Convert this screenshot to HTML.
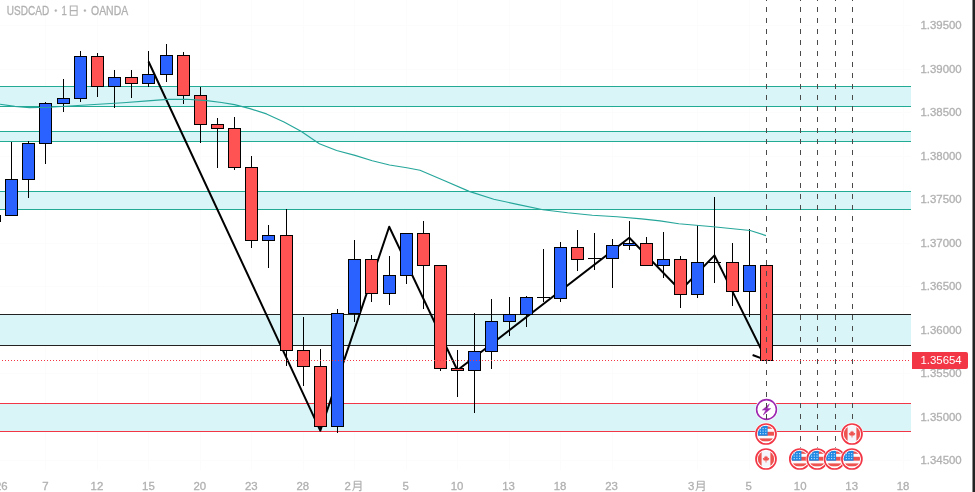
<!DOCTYPE html>
<html><head><meta charset="utf-8"><style>
html,body{margin:0;padding:0;background:#fff;}
body{width:975px;height:492px;overflow:hidden;position:relative;font-family:"Liberation Sans",sans-serif;}
</style></head><body>
<svg width="975" height="492" viewBox="0 0 975 492" style="position:absolute;left:0;top:0">
<rect width="975" height="492" fill="#fff"/>
<g shape-rendering="crispEdges" fill="#fcfcfc">
<rect x="-5" y="0" width="1" height="470"/>
<rect x="45" y="0" width="1" height="470"/>
<rect x="97" y="0" width="1" height="470"/>
<rect x="148" y="0" width="1" height="470"/>
<rect x="200" y="0" width="1" height="470"/>
<rect x="251" y="0" width="1" height="470"/>
<rect x="303" y="0" width="1" height="470"/>
<rect x="354" y="0" width="1" height="470"/>
<rect x="406" y="0" width="1" height="470"/>
<rect x="457" y="0" width="1" height="470"/>
<rect x="509" y="0" width="1" height="470"/>
<rect x="560" y="0" width="1" height="470"/>
<rect x="612" y="0" width="1" height="470"/>
<rect x="697" y="0" width="1" height="470"/>
<rect x="749" y="0" width="1" height="470"/>
<rect x="800" y="0" width="1" height="470"/>
<rect x="852" y="0" width="1" height="470"/>
<rect x="903" y="0" width="1" height="470"/>
<rect x="0" y="25" width="911" height="1"/>
<rect x="0" y="69" width="911" height="1"/>
<rect x="0" y="112" width="911" height="1"/>
<rect x="0" y="156" width="911" height="1"/>
<rect x="0" y="199" width="911" height="1"/>
<rect x="0" y="243" width="911" height="1"/>
<rect x="0" y="286" width="911" height="1"/>
<rect x="0" y="330" width="911" height="1"/>
<rect x="0" y="373" width="911" height="1"/>
<rect x="0" y="417" width="911" height="1"/>
<rect x="0" y="460" width="911" height="1"/>
</g>
<g shape-rendering="crispEdges">
<rect x="0" y="86" width="911" height="21" fill="#d9f5f8"/>
<rect x="0" y="86" width="911" height="1" fill="#22ab94"/>
<rect x="0" y="106" width="911" height="1" fill="#22ab94"/>
<rect x="0" y="131" width="911" height="11" fill="#d9f5f8"/>
<rect x="0" y="131" width="911" height="1" fill="#22ab94"/>
<rect x="0" y="141" width="911" height="1" fill="#22ab94"/>
<rect x="0" y="191" width="911" height="19" fill="#d9f5f8"/>
<rect x="0" y="191" width="911" height="1" fill="#22ab94"/>
<rect x="0" y="209" width="911" height="1" fill="#22ab94"/>
<rect x="0" y="314" width="911" height="32" fill="#d9f5f8"/>
<rect x="0" y="314" width="911" height="1" fill="#222"/>
<rect x="0" y="345" width="911" height="1" fill="#222"/>
<rect x="0" y="403" width="911" height="29" fill="#d9f5f8"/>
<rect x="0" y="403" width="911" height="1" fill="#f23645"/>
<rect x="0" y="431" width="911" height="1" fill="#f23645"/>
</g>
<polyline fill="none" stroke="#000" stroke-width="2" stroke-linejoin="round" points="148.5,61.5 320.3,430.6 389.2,226.8 457.4,370.2 629.3,237.8 680.5,290.5 714.5,255.4 766.5,360"/>
<path d="M752.6 355L766 360" stroke="#000" stroke-width="2" fill="none"/>
<g shape-rendering="crispEdges">
<rect x="0" y="215" width="1" height="7" fill="#000"/>
<rect x="11" y="142" width="1" height="74" fill="#000"/>
<rect x="5" y="179" width="13" height="37" fill="#000"/>
<rect x="6" y="180" width="11" height="35" fill="#2962ff"/>
<rect x="28" y="141" width="1" height="57" fill="#000"/>
<rect x="22" y="143" width="13" height="37" fill="#000"/>
<rect x="23" y="144" width="11" height="35" fill="#2962ff"/>
<rect x="45" y="102" width="1" height="62" fill="#000"/>
<rect x="39" y="103" width="13" height="41" fill="#000"/>
<rect x="40" y="104" width="11" height="39" fill="#2962ff"/>
<rect x="63" y="79" width="1" height="33" fill="#000"/>
<rect x="57" y="98" width="13" height="6" fill="#000"/>
<rect x="58" y="99" width="11" height="4" fill="#2962ff"/>
<rect x="80" y="51" width="1" height="51" fill="#000"/>
<rect x="74" y="56" width="13" height="43" fill="#000"/>
<rect x="75" y="57" width="11" height="41" fill="#2962ff"/>
<rect x="97" y="53" width="1" height="44" fill="#000"/>
<rect x="91" y="56" width="13" height="31" fill="#000"/>
<rect x="92" y="57" width="11" height="29" fill="#ff5252"/>
<rect x="114" y="70" width="1" height="38" fill="#000"/>
<rect x="108" y="77" width="13" height="10" fill="#000"/>
<rect x="109" y="78" width="11" height="8" fill="#2962ff"/>
<rect x="131" y="70" width="1" height="28" fill="#000"/>
<rect x="125" y="77" width="13" height="7" fill="#000"/>
<rect x="126" y="78" width="11" height="5" fill="#ff5252"/>
<rect x="148" y="51" width="1" height="36" fill="#000"/>
<rect x="142" y="74" width="13" height="10" fill="#000"/>
<rect x="143" y="75" width="11" height="8" fill="#2962ff"/>
<rect x="166" y="44" width="1" height="38" fill="#000"/>
<rect x="160" y="55" width="13" height="20" fill="#000"/>
<rect x="161" y="56" width="11" height="18" fill="#2962ff"/>
<rect x="183" y="52" width="1" height="52" fill="#000"/>
<rect x="177" y="55" width="13" height="41" fill="#000"/>
<rect x="178" y="56" width="11" height="39" fill="#ff5252"/>
<rect x="200" y="87" width="1" height="56" fill="#000"/>
<rect x="194" y="95" width="13" height="30" fill="#000"/>
<rect x="195" y="96" width="11" height="28" fill="#ff5252"/>
<rect x="217" y="118" width="1" height="50" fill="#000"/>
<rect x="211" y="124" width="13" height="5" fill="#000"/>
<rect x="212" y="125" width="11" height="3" fill="#ff5252"/>
<rect x="234" y="117" width="1" height="53" fill="#000"/>
<rect x="228" y="128" width="13" height="40" fill="#000"/>
<rect x="229" y="129" width="11" height="38" fill="#ff5252"/>
<rect x="251" y="156" width="1" height="92" fill="#000"/>
<rect x="245" y="167" width="13" height="74" fill="#000"/>
<rect x="246" y="168" width="11" height="72" fill="#ff5252"/>
<rect x="268" y="225" width="1" height="43" fill="#000"/>
<rect x="262" y="235" width="13" height="6" fill="#000"/>
<rect x="263" y="236" width="11" height="4" fill="#2962ff"/>
<rect x="286" y="209" width="1" height="157" fill="#000"/>
<rect x="280" y="235" width="13" height="116" fill="#000"/>
<rect x="281" y="236" width="11" height="114" fill="#ff5252"/>
<rect x="303" y="317" width="1" height="69" fill="#000"/>
<rect x="297" y="350" width="13" height="17" fill="#000"/>
<rect x="298" y="351" width="11" height="15" fill="#ff5252"/>
<rect x="320" y="349" width="1" height="82" fill="#000"/>
<rect x="314" y="366" width="13" height="61" fill="#000"/>
<rect x="315" y="367" width="11" height="59" fill="#ff5252"/>
<rect x="337" y="309" width="1" height="124" fill="#000"/>
<rect x="331" y="313" width="13" height="114" fill="#000"/>
<rect x="332" y="314" width="11" height="112" fill="#2962ff"/>
<rect x="354" y="240" width="1" height="82" fill="#000"/>
<rect x="348" y="259" width="13" height="55" fill="#000"/>
<rect x="349" y="260" width="11" height="53" fill="#2962ff"/>
<rect x="371" y="255" width="1" height="47" fill="#000"/>
<rect x="365" y="259" width="13" height="35" fill="#000"/>
<rect x="366" y="260" width="11" height="33" fill="#ff5252"/>
<rect x="389" y="256" width="1" height="49" fill="#000"/>
<rect x="383" y="275" width="13" height="19" fill="#000"/>
<rect x="384" y="276" width="11" height="17" fill="#2962ff"/>
<rect x="406" y="233" width="1" height="51" fill="#000"/>
<rect x="400" y="233" width="13" height="43" fill="#000"/>
<rect x="401" y="234" width="11" height="41" fill="#2962ff"/>
<rect x="423" y="221" width="1" height="88" fill="#000"/>
<rect x="417" y="233" width="13" height="33" fill="#000"/>
<rect x="418" y="234" width="11" height="31" fill="#ff5252"/>
<rect x="440" y="265" width="1" height="106" fill="#000"/>
<rect x="434" y="265" width="13" height="104" fill="#000"/>
<rect x="435" y="266" width="11" height="102" fill="#ff5252"/>
<rect x="457" y="350" width="1" height="47" fill="#000"/>
<rect x="451" y="368" width="13" height="3" fill="#000"/>
<rect x="452" y="369" width="11" height="1" fill="#ff5252"/>
<rect x="474" y="313" width="1" height="100" fill="#000"/>
<rect x="468" y="351" width="13" height="20" fill="#000"/>
<rect x="469" y="352" width="11" height="18" fill="#2962ff"/>
<rect x="491" y="299" width="1" height="70" fill="#000"/>
<rect x="485" y="321" width="13" height="31" fill="#000"/>
<rect x="486" y="322" width="11" height="29" fill="#2962ff"/>
<rect x="509" y="297" width="1" height="39" fill="#000"/>
<rect x="503" y="314" width="13" height="8" fill="#000"/>
<rect x="504" y="315" width="11" height="6" fill="#2962ff"/>
<rect x="526" y="296" width="1" height="31" fill="#000"/>
<rect x="520" y="297" width="13" height="18" fill="#000"/>
<rect x="521" y="298" width="11" height="16" fill="#2962ff"/>
<rect x="543" y="249" width="1" height="53" fill="#000"/>
<rect x="537" y="297" width="13" height="1" fill="#000"/>
<rect x="560" y="242" width="1" height="60" fill="#000"/>
<rect x="554" y="247" width="13" height="52" fill="#000"/>
<rect x="555" y="248" width="11" height="50" fill="#2962ff"/>
<rect x="577" y="230" width="1" height="41" fill="#000"/>
<rect x="571" y="247" width="13" height="13" fill="#000"/>
<rect x="572" y="248" width="11" height="11" fill="#ff5252"/>
<rect x="594" y="233" width="1" height="37" fill="#000"/>
<rect x="588" y="258" width="13" height="1" fill="#000"/>
<rect x="612" y="239" width="1" height="49" fill="#000"/>
<rect x="606" y="245" width="13" height="14" fill="#000"/>
<rect x="607" y="246" width="11" height="12" fill="#2962ff"/>
<rect x="629" y="221" width="1" height="29" fill="#000"/>
<rect x="623" y="243" width="13" height="3" fill="#000"/>
<rect x="624" y="244" width="11" height="1" fill="#2962ff"/>
<rect x="646" y="237" width="1" height="29" fill="#000"/>
<rect x="640" y="243" width="13" height="23" fill="#000"/>
<rect x="641" y="244" width="11" height="21" fill="#ff5252"/>
<rect x="663" y="232" width="1" height="46" fill="#000"/>
<rect x="657" y="259" width="13" height="7" fill="#000"/>
<rect x="658" y="260" width="11" height="5" fill="#2962ff"/>
<rect x="680" y="256" width="1" height="52" fill="#000"/>
<rect x="674" y="259" width="13" height="36" fill="#000"/>
<rect x="675" y="260" width="11" height="34" fill="#ff5252"/>
<rect x="697" y="225" width="1" height="73" fill="#000"/>
<rect x="691" y="262" width="13" height="33" fill="#000"/>
<rect x="692" y="263" width="11" height="31" fill="#2962ff"/>
<rect x="714" y="197" width="1" height="86" fill="#000"/>
<rect x="708" y="262" width="13" height="1" fill="#000"/>
<rect x="732" y="243" width="1" height="63" fill="#000"/>
<rect x="726" y="262" width="13" height="30" fill="#000"/>
<rect x="727" y="263" width="11" height="28" fill="#ff5252"/>
<rect x="749" y="229" width="1" height="88" fill="#000"/>
<rect x="743" y="265" width="13" height="27" fill="#000"/>
<rect x="744" y="266" width="11" height="25" fill="#2962ff"/>
<rect x="766" y="265" width="1" height="96" fill="#000"/>
<rect x="760" y="265" width="13" height="96" fill="#000"/>
<rect x="761" y="266" width="11" height="94" fill="#ff5252"/>
</g>
<polyline fill="none" stroke="#26a69a" stroke-width="1.15" stroke-linejoin="round" points="0,104.2 14.8,106.4 29.5,107.6 49.2,107.2 62,106.5 73.8,105.7 98.5,104.2 123,102.7 147.7,100.9 167.4,99.4 187,99.2 206.8,100.6 221.5,102.5 234.5,104.6 250,108.6 266.5,113.9 284,122 301,131.3 319.4,143.8 336.6,150.5 355,155.4 372.3,160.8 389.5,165 406.8,167.7 420,170.2 444.6,180.8 469.2,191.4 493.8,199.2 518.5,204.6 543,209.8 567.7,212.8 592.3,215.2 617,216.7 641.5,218.9 660,220.9 678.8,223.8 713.2,226.8 750.2,230.5 766.0,235.6"/>
<path d="M766.5 0V399" stroke="#4a4a4a" stroke-width="1" stroke-dasharray="5 6" stroke-dashoffset="4" shape-rendering="crispEdges" fill="none"/>
<path d="M800.5 0V448" stroke="#4a4a4a" stroke-width="1" stroke-dasharray="5 6" stroke-dashoffset="4" shape-rendering="crispEdges" fill="none"/>
<path d="M817.5 0V448" stroke="#4a4a4a" stroke-width="1" stroke-dasharray="5 6" stroke-dashoffset="4" shape-rendering="crispEdges" fill="none"/>
<path d="M835.5 0V448" stroke="#4a4a4a" stroke-width="1" stroke-dasharray="5 6" stroke-dashoffset="4" shape-rendering="crispEdges" fill="none"/>
<path d="M852.5 0V423" stroke="#4a4a4a" stroke-width="1" stroke-dasharray="5 6" stroke-dashoffset="4" shape-rendering="crispEdges" fill="none"/>
<path d="M2 360.5H911" stroke="#f23645" stroke-width="1" stroke-dasharray="1 2" shape-rendering="crispEdges" fill="none"/>
</svg>
<svg width="975" height="492" viewBox="0 0 975 492" style="position:absolute;left:0;top:0;opacity:0.999" font-family="Liberation Sans, sans-serif">
<defs><filter id="gs" x="0" y="0" width="100%" height="100%" filterUnits="userSpaceOnUse" color-interpolation-filters="sRGB"><feColorMatrix type="saturate" values="0"/></filter></defs>
<g transform="translate(766.5,409.5)"><circle r="11.3" fill="#fff"/><circle r="9.9" fill="#fff" stroke="#9c27b0" stroke-width="1.6"/><path d="M2.9 -5.6L-4.2 0.6L-0.6 0.6L-3.2 5.4L4.2 -0.9L0.7 -0.9Z" fill="#9c27b0" stroke="#9c27b0" stroke-width="0.5" stroke-linejoin="round"/></g><g shape-rendering="crispEdges" fill="#444"><rect x="766" y="403" width="1" height="5"/><rect x="766" y="414" width="1" height="5"/></g>
<g transform="translate(766,434)"><circle r="11.4" fill="#fff"/><circle r="10" fill="#fff" stroke="#f23645" stroke-width="1.7"/><clipPath id="c1"><circle r="8.2"/></clipPath><g clip-path="url(#c1)"><rect x="-9" y="-9" width="18" height="18" fill="#fbfbfd"/><rect x="-9" y="-7.6" width="18" height="2.4" fill="#ef5350"/><rect x="-9" y="-2.2" width="18" height="3.9" fill="#ef5350"/><rect x="-9" y="4.4" width="18" height="2.9" fill="#ef5350"/><rect x="-9" y="-9" width="10.6" height="10.7" fill="#1e88e5"/><rect x="-6.1499999999999995" y="-5.95" width="1.1" height="1.1" fill="#d6e8fb"/><rect x="-6.1499999999999995" y="-3.45" width="1.1" height="1.1" fill="#d6e8fb"/><rect x="-6.1499999999999995" y="-0.9500000000000001" width="1.1" height="1.1" fill="#d6e8fb"/><rect x="-3.45" y="-5.95" width="1.1" height="1.1" fill="#d6e8fb"/><rect x="-3.45" y="-3.45" width="1.1" height="1.1" fill="#d6e8fb"/><rect x="-3.45" y="-0.9500000000000001" width="1.1" height="1.1" fill="#d6e8fb"/><rect x="-0.75" y="-5.95" width="1.1" height="1.1" fill="#d6e8fb"/><rect x="-0.75" y="-3.45" width="1.1" height="1.1" fill="#d6e8fb"/><rect x="-0.75" y="-0.9500000000000001" width="1.1" height="1.1" fill="#d6e8fb"/></g></g>
<g transform="translate(766,459)"><circle r="11.4" fill="#fff"/><circle r="10" fill="#fff" stroke="#f23645" stroke-width="1.7"/><clipPath id="c2"><circle r="8.2"/></clipPath><g clip-path="url(#c2)"><rect x="-9" y="-9" width="18" height="18" fill="#f5f6fb"/><rect x="-9" y="-9" width="4.6" height="18" fill="#ef5350"/><rect x="4.4" y="-9" width="4.6" height="18" fill="#ef5350"/><path d="M0 -3.6L0.9 -2.1L1.9 -2.6L1.6 -0.6L2.7 -1.2L3.3 0L2.2 0.9L2.5 1.6L0.4 1.4L0.4 3.4L-0.4 3.4L-0.4 1.4L-2.5 1.6L-2.2 0.9L-3.3 0L-2.7 -1.2L-1.6 -0.6L-1.9 -2.6L-0.9 -2.1Z" fill="#ef5350"/></g></g>
<g transform="translate(799.8,459)"><circle r="11.4" fill="#fff"/><circle r="10" fill="#fff" stroke="#f23645" stroke-width="1.7"/><clipPath id="c3"><circle r="8.2"/></clipPath><g clip-path="url(#c3)"><rect x="-9" y="-9" width="18" height="18" fill="#fbfbfd"/><rect x="-9" y="-7.6" width="18" height="2.4" fill="#ef5350"/><rect x="-9" y="-2.2" width="18" height="3.9" fill="#ef5350"/><rect x="-9" y="4.4" width="18" height="2.9" fill="#ef5350"/><rect x="-9" y="-9" width="10.6" height="10.7" fill="#1e88e5"/><rect x="-6.1499999999999995" y="-5.95" width="1.1" height="1.1" fill="#d6e8fb"/><rect x="-6.1499999999999995" y="-3.45" width="1.1" height="1.1" fill="#d6e8fb"/><rect x="-6.1499999999999995" y="-0.9500000000000001" width="1.1" height="1.1" fill="#d6e8fb"/><rect x="-3.45" y="-5.95" width="1.1" height="1.1" fill="#d6e8fb"/><rect x="-3.45" y="-3.45" width="1.1" height="1.1" fill="#d6e8fb"/><rect x="-3.45" y="-0.9500000000000001" width="1.1" height="1.1" fill="#d6e8fb"/><rect x="-0.75" y="-5.95" width="1.1" height="1.1" fill="#d6e8fb"/><rect x="-0.75" y="-3.45" width="1.1" height="1.1" fill="#d6e8fb"/><rect x="-0.75" y="-0.9500000000000001" width="1.1" height="1.1" fill="#d6e8fb"/></g></g>
<g transform="translate(817.2,459)"><circle r="11.4" fill="#fff"/><circle r="10" fill="#fff" stroke="#f23645" stroke-width="1.7"/><clipPath id="c4"><circle r="8.2"/></clipPath><g clip-path="url(#c4)"><rect x="-9" y="-9" width="18" height="18" fill="#fbfbfd"/><rect x="-9" y="-7.6" width="18" height="2.4" fill="#ef5350"/><rect x="-9" y="-2.2" width="18" height="3.9" fill="#ef5350"/><rect x="-9" y="4.4" width="18" height="2.9" fill="#ef5350"/><rect x="-9" y="-9" width="10.6" height="10.7" fill="#1e88e5"/><rect x="-6.1499999999999995" y="-5.95" width="1.1" height="1.1" fill="#d6e8fb"/><rect x="-6.1499999999999995" y="-3.45" width="1.1" height="1.1" fill="#d6e8fb"/><rect x="-6.1499999999999995" y="-0.9500000000000001" width="1.1" height="1.1" fill="#d6e8fb"/><rect x="-3.45" y="-5.95" width="1.1" height="1.1" fill="#d6e8fb"/><rect x="-3.45" y="-3.45" width="1.1" height="1.1" fill="#d6e8fb"/><rect x="-3.45" y="-0.9500000000000001" width="1.1" height="1.1" fill="#d6e8fb"/><rect x="-0.75" y="-5.95" width="1.1" height="1.1" fill="#d6e8fb"/><rect x="-0.75" y="-3.45" width="1.1" height="1.1" fill="#d6e8fb"/><rect x="-0.75" y="-0.9500000000000001" width="1.1" height="1.1" fill="#d6e8fb"/></g></g>
<g transform="translate(834.5,459)"><circle r="11.4" fill="#fff"/><circle r="10" fill="#fff" stroke="#f23645" stroke-width="1.7"/><clipPath id="c5"><circle r="8.2"/></clipPath><g clip-path="url(#c5)"><rect x="-9" y="-9" width="18" height="18" fill="#fbfbfd"/><rect x="-9" y="-7.6" width="18" height="2.4" fill="#ef5350"/><rect x="-9" y="-2.2" width="18" height="3.9" fill="#ef5350"/><rect x="-9" y="4.4" width="18" height="2.9" fill="#ef5350"/><rect x="-9" y="-9" width="10.6" height="10.7" fill="#1e88e5"/><rect x="-6.1499999999999995" y="-5.95" width="1.1" height="1.1" fill="#d6e8fb"/><rect x="-6.1499999999999995" y="-3.45" width="1.1" height="1.1" fill="#d6e8fb"/><rect x="-6.1499999999999995" y="-0.9500000000000001" width="1.1" height="1.1" fill="#d6e8fb"/><rect x="-3.45" y="-5.95" width="1.1" height="1.1" fill="#d6e8fb"/><rect x="-3.45" y="-3.45" width="1.1" height="1.1" fill="#d6e8fb"/><rect x="-3.45" y="-0.9500000000000001" width="1.1" height="1.1" fill="#d6e8fb"/><rect x="-0.75" y="-5.95" width="1.1" height="1.1" fill="#d6e8fb"/><rect x="-0.75" y="-3.45" width="1.1" height="1.1" fill="#d6e8fb"/><rect x="-0.75" y="-0.9500000000000001" width="1.1" height="1.1" fill="#d6e8fb"/></g></g>
<g transform="translate(851.9,459)"><circle r="11.4" fill="#fff"/><circle r="10" fill="#fff" stroke="#f23645" stroke-width="1.7"/><clipPath id="c6"><circle r="8.2"/></clipPath><g clip-path="url(#c6)"><rect x="-9" y="-9" width="18" height="18" fill="#fbfbfd"/><rect x="-9" y="-7.6" width="18" height="2.4" fill="#ef5350"/><rect x="-9" y="-2.2" width="18" height="3.9" fill="#ef5350"/><rect x="-9" y="4.4" width="18" height="2.9" fill="#ef5350"/><rect x="-9" y="-9" width="10.6" height="10.7" fill="#1e88e5"/><rect x="-6.1499999999999995" y="-5.95" width="1.1" height="1.1" fill="#d6e8fb"/><rect x="-6.1499999999999995" y="-3.45" width="1.1" height="1.1" fill="#d6e8fb"/><rect x="-6.1499999999999995" y="-0.9500000000000001" width="1.1" height="1.1" fill="#d6e8fb"/><rect x="-3.45" y="-5.95" width="1.1" height="1.1" fill="#d6e8fb"/><rect x="-3.45" y="-3.45" width="1.1" height="1.1" fill="#d6e8fb"/><rect x="-3.45" y="-0.9500000000000001" width="1.1" height="1.1" fill="#d6e8fb"/><rect x="-0.75" y="-5.95" width="1.1" height="1.1" fill="#d6e8fb"/><rect x="-0.75" y="-3.45" width="1.1" height="1.1" fill="#d6e8fb"/><rect x="-0.75" y="-0.9500000000000001" width="1.1" height="1.1" fill="#d6e8fb"/></g></g>
<g transform="translate(852,434)"><circle r="11.4" fill="#fff"/><circle r="10" fill="#fff" stroke="#f23645" stroke-width="1.7"/><clipPath id="c8"><circle r="8.2"/></clipPath><g clip-path="url(#c8)"><rect x="-9" y="-9" width="18" height="18" fill="#f5f6fb"/><rect x="-9" y="-9" width="4.6" height="18" fill="#ef5350"/><rect x="4.4" y="-9" width="4.6" height="18" fill="#ef5350"/><path d="M0 -3.6L0.9 -2.1L1.9 -2.6L1.6 -0.6L2.7 -1.2L3.3 0L2.2 0.9L2.5 1.6L0.4 1.4L0.4 3.4L-0.4 3.4L-0.4 1.4L-2.5 1.6L-2.2 0.9L-3.3 0L-2.7 -1.2L-1.6 -0.6L-1.9 -2.6L-0.9 -2.1Z" fill="#ef5350"/></g></g>
<g filter="url(#gs)" stroke="#b0b0b0" stroke-width="0.3">
<text transform="translate(920.4,29.3) scale(1.012,1)" font-size="11.3" fill="#b0b0b0">1.39500</text>
<text transform="translate(920.4,72.8) scale(1.012,1)" font-size="11.3" fill="#b0b0b0">1.39000</text>
<text transform="translate(920.4,116.3) scale(1.012,1)" font-size="11.3" fill="#b0b0b0">1.38500</text>
<text transform="translate(920.4,159.8) scale(1.012,1)" font-size="11.3" fill="#b0b0b0">1.38000</text>
<text transform="translate(920.4,203.3) scale(1.012,1)" font-size="11.3" fill="#b0b0b0">1.37500</text>
<text transform="translate(920.4,246.8) scale(1.012,1)" font-size="11.3" fill="#b0b0b0">1.37000</text>
<text transform="translate(920.4,290.3) scale(1.012,1)" font-size="11.3" fill="#b0b0b0">1.36500</text>
<text transform="translate(920.4,333.8) scale(1.012,1)" font-size="11.3" fill="#b0b0b0">1.36000</text>
<text transform="translate(920.4,377.3) scale(1.012,1)" font-size="11.3" fill="#b0b0b0">1.35500</text>
<text transform="translate(920.4,420.8) scale(1.012,1)" font-size="11.3" fill="#b0b0b0">1.35000</text>
<text transform="translate(920.4,464.3) scale(1.012,1)" font-size="11.3" fill="#b0b0b0">1.34500</text>
</g>
<path d="M912 352H966a2 2 0 0 1 2 2V367a2 2 0 0 1 -2 2H912Z" fill="#f23645"/>
<text transform="translate(920.4,364.0) scale(1.012,1)" font-size="11.3" fill="#fff">1.35654</text>
<g filter="url(#gs)" stroke="#b0b0b0" stroke-width="0.3">
<text transform="translate(45.5,490) scale(1.012,1)" font-size="11.3" fill="#b0b0b0" text-anchor="middle">7</text>
<text transform="translate(96.9,490) scale(1.012,1)" font-size="11.3" fill="#b0b0b0" text-anchor="middle">12</text>
<text transform="translate(148.4,490) scale(1.012,1)" font-size="11.3" fill="#b0b0b0" text-anchor="middle">15</text>
<text transform="translate(199.8,490) scale(1.012,1)" font-size="11.3" fill="#b0b0b0" text-anchor="middle">20</text>
<text transform="translate(251.3,490) scale(1.012,1)" font-size="11.3" fill="#b0b0b0" text-anchor="middle">23</text>
<text transform="translate(302.8,490) scale(1.012,1)" font-size="11.3" fill="#b0b0b0" text-anchor="middle">28</text>
<text transform="translate(405.7,490) scale(1.012,1)" font-size="11.3" fill="#b0b0b0" text-anchor="middle">5</text>
<text transform="translate(457.1,490) scale(1.012,1)" font-size="11.3" fill="#b0b0b0" text-anchor="middle">10</text>
<text transform="translate(508.6,490) scale(1.012,1)" font-size="11.3" fill="#b0b0b0" text-anchor="middle">13</text>
<text transform="translate(560.1,490) scale(1.012,1)" font-size="11.3" fill="#b0b0b0" text-anchor="middle">18</text>
<text transform="translate(611.5,490) scale(1.012,1)" font-size="11.3" fill="#b0b0b0" text-anchor="middle">23</text>
<text transform="translate(748.8,490) scale(1.012,1)" font-size="11.3" fill="#b0b0b0" text-anchor="middle">5</text>
<text transform="translate(800.2,490) scale(1.012,1)" font-size="11.3" fill="#b0b0b0" text-anchor="middle">10</text>
<text transform="translate(851.7,490) scale(1.012,1)" font-size="11.3" fill="#b0b0b0" text-anchor="middle">13</text>
<text transform="translate(903.1,490) scale(1.012,1)" font-size="11.3" fill="#b0b0b0" text-anchor="middle">18</text>
<text transform="translate(7.6,490) scale(1.012,1)" font-size="11.3" fill="#b0b0b0" text-anchor="end">2026</text>
<text transform="translate(344.6,490) scale(1.012,1)" font-size="11.3" fill="#b0b0b0">2</text>
<g fill="none" stroke="#b0b0b0" stroke-width="1.15" stroke-linejoin="round"><path d="M354.27 481.2H360.94V490.13Q360.94 490.80 358.87 490.61M354.27 481.2V486.77Q354.08 489.36 352.50 490.80M354.27 484.18H360.94M354.27 487.06H360.94"/></g>
<text transform="translate(688.0,490) scale(1.012,1)" font-size="11.3" fill="#b0b0b0">3</text>
<g fill="none" stroke="#b0b0b0" stroke-width="1.15" stroke-linejoin="round"><path d="M697.47 481.2H704.14V490.13Q704.14 490.80 702.07 490.61M697.47 481.2V486.77Q697.28 489.36 695.70 490.80M697.47 484.18H704.14M697.47 487.06H704.14"/></g>
<g font-size="12.3" fill="#b0b0b0">
<text transform="translate(6.8,14.9) scale(0.815,1)">USDCAD</text>
<circle cx="55.8" cy="10.6" r="1.1"/>
<text transform="translate(61.4,14.9) scale(0.78,1)">1</text>
<path d="M70.3 6.0H77.1V15.3H70.3ZM70.3 10.6H77.1" fill="none" stroke="#b0b0b0" stroke-width="1.1"/>
<circle cx="84.9" cy="10.6" r="1.1"/>
<text transform="translate(91,14.9) scale(0.85,1)">OANDA</text>
</g>
</g>
<g shape-rendering="crispEdges"><rect x="972" y="0" width="1" height="492" fill="#8a8a8a"/><rect x="973" y="0" width="2" height="492" fill="#222"/></g>
</svg>
</body></html>
